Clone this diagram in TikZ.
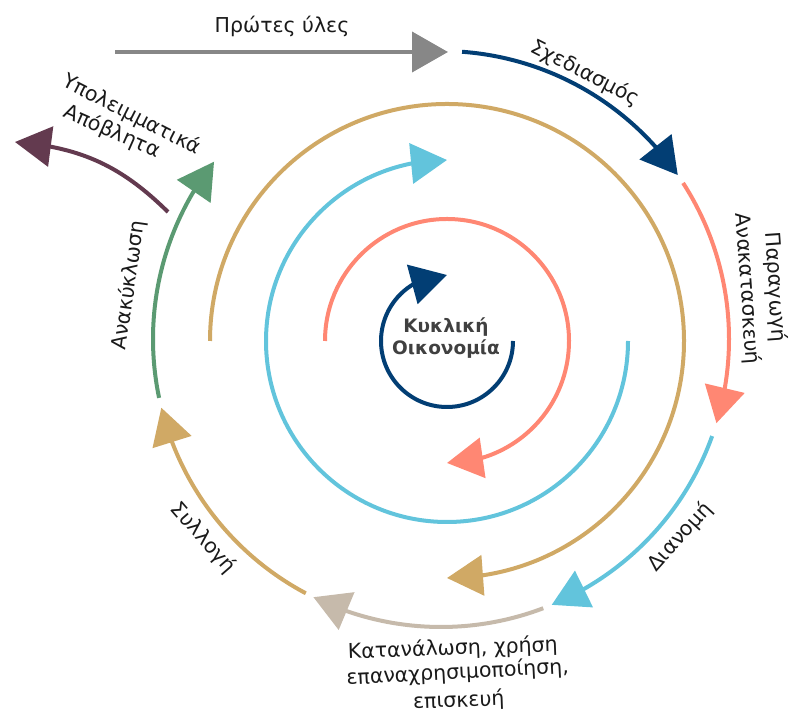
\documentclass[tikz,border=0pt]{standalone}
\usepackage{fontspec}
\setmainfont{DejaVu Sans}
\usetikzlibrary{arrows.meta,bending,calc}
\definecolor{cnavy}{HTML}{023E74}
\definecolor{csalmon}{HTML}{FF8773}
\definecolor{ccyan}{HTML}{62C4DC}
\definecolor{cgold}{HTML}{D0A965}
\definecolor{cbeige}{HTML}{C6BAAB}
\definecolor{cgreen}{HTML}{5B9A72}
\definecolor{cplum}{HTML}{633A4F}
\definecolor{cgrey}{HTML}{878787}
\definecolor{ctext}{HTML}{1A1A1A}
\definecolor{ccenter}{HTML}{404040}
\begin{document}
\begin{tikzpicture}[x=1bp,y=1bp,
  ringline/.style={line width=4bp},
  bigtip/.style={-{Triangle[length=36bp,width=40bp,flex]}},
  lbl/.style={font=\fontsize{20.5bp}{24bp}\selectfont, text=ctext, inner sep=0pt},
  centerlbl/.style={font=\fontsize{18.5bp}{22bp}\selectfont\bfseries, text=ccenter, inner sep=0pt, align=center}]
\useasboundingbox (0,0) rectangle (791,715);
\coordinate (O) at (447,374);
\coordinate (Q) at (441,376);
% inner spiral arcs
\coordinate (i1) at ($(O)+(0:66bp)$);
\draw[ringline,bigtip,cnavy] (i1) arc[start angle=0,end angle=-270,radius=66bp];
\coordinate (i2) at ($(O)+(180:122bp)$);
\draw[ringline,bigtip,csalmon] (i2) arc[start angle=180,end angle=-90,radius=122bp];
\coordinate (i3) at ($(O)+(0:181bp)$);
\draw[ringline,bigtip,ccyan] (i3) arc[start angle=0,end angle=-270,radius=181bp];
\coordinate (i4) at ($(O)+(180:237bp)$);
\draw[ringline,bigtip,cgold] (i4) arc[start angle=180,end angle=-90,radius=237bp];
% outer ring
\coordinate (o1) at ($(Q)+(85.8:288bp)$);
\draw[ringline,bigtip,cnavy] (o1) arc[start angle=85.8,end angle=34.7,radius=288bp];
\coordinate (o2) at ($(Q)+(32.8:288bp)$);
\draw[ringline,bigtip,csalmon] (o2) arc[start angle=32.8,end angle=-17,radius=288bp];
\coordinate (o3) at ($(Q)+(-19.7:288bp)$);
\draw[ringline,bigtip,ccyan] (o3) arc[start angle=-19.7,end angle=-67.4,radius=288bp];
\coordinate (o4) at ($(Q)+(-69.2:288bp)$);
\draw[ringline,bigtip,cbeige] (o4) arc[start angle=-69.2,end angle=-116.3,radius=288bp];
\coordinate (o5) at ($(Q)+(-118:288bp)$);
\draw[ringline,bigtip,cgold] (o5) arc[start angle=-118,end angle=-166.2,radius=288bp];
\coordinate (o6) at ($(Q)+(-168.2:288bp)$);
\draw[ringline,bigtip,cgreen] (o6) arc[start angle=-168.2,end angle=-218,radius=288bp];
% raw materials and residual waste
\coordinate (gs) at (115,663);
\coordinate (ge) at (448,663);
\draw[ringline,bigtip,cgrey] (gs) -- (ge);
\coordinate (ps) at (168,503);
\coordinate (pe) at (15,573);
\draw[ringline,bigtip,cplum] (ps) to[bend right=20] (pe);
% labels
\node[lbl,anchor=base] (raw) at (282,682) {Πρώτες ύλες};
\node[lbl,rotate=-27] (design) at (585,642) {Σχεδιασμός};
\node[lbl,rotate=-86,align=center] (prod) at (761,427) {Παραγωγή\\[4bp]Ανακατασκευή};
\node[lbl,rotate=48] (distr) at (680,178) {Διανομή};
\node[lbl,rotate=2,anchor=base] (use1) at (453,60) {Κατανάλωση, χρήση};
\node[lbl,rotate=3,anchor=base] (use2) at (458,36) {επαναχρησιμοποίηση,};
\node[lbl,rotate=2,anchor=base] (use3) at (459,8) {επισκευή};
\node[lbl,rotate=-49] (coll) at (203,177) {Συλλογή};
\node[lbl,rotate=82] (recy) at (129,430) {Ανακύκλωση};
\node[lbl,rotate=-27] (waste1) at (132,600) {Υπολειμματικά};
\node[lbl,rotate=-24] (waste2) at (112,583) {Απόβλητα};
\node[centerlbl] (ce) at (446,377) {Κυκλική\\Οικονομία};
\end{tikzpicture}
\end{document}
